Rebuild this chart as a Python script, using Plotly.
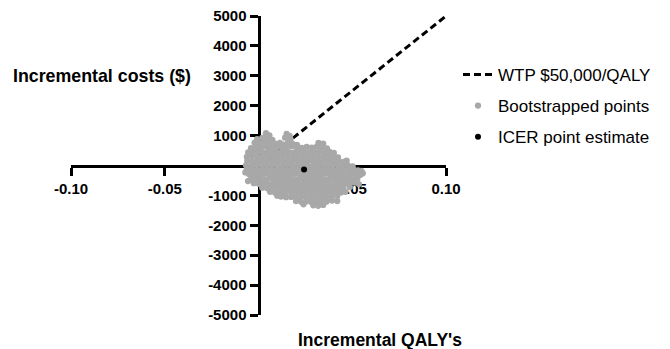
import plotly.graph_objects as go

# ---- data ----
x_tickvals = [-0.10, -0.05, 0.05, 0.10]
x_ticktext = ["-0.10", "-0.05", "0.05", "0.10"]
y_tickvals = [-5000, -4000, -3000, -2000, -1000, 1000, 2000, 3000, 4000, 5000]
y_ticktext = [str(v) for v in y_tickvals]

wtp_qaly = [0.0, 0.10]
wtp_cost = [0.0, 5000.0]

icer_qaly = [0.0243]
icer_cost = [-130]

boot_qaly = [
    0.0040, 0.0058, 0.0150, 0.0166,
    -0.0008, 0.0020, 0.0047, 0.0074, 0.0142, 0.0170,
    -0.0021, 0.0006, 0.0033, 0.0060, 0.0087, 0.0114, 0.0132, 0.0155, 0.0182, 0.0205, 0.0320, 0.0345,
    -0.0040, -0.0013, 0.0014, 0.0041, 0.0068, 0.0095, 0.0122, 0.0149, 0.0176, 0.0203, 0.0230, 0.0257, 0.0284, 0.0311, 0.0338, 0.0365,
    -0.0055, -0.0028, -0.0001, 0.0026, 0.0053, 0.0080, 0.0107, 0.0134, 0.0161, 0.0188, 0.0215, 0.0242, 0.0269, 0.0296, 0.0323, 0.0350, 0.0377, 0.0402,
    -0.0062, -0.0035, -0.0008, 0.0019, 0.0046, 0.0073, 0.0100, 0.0127, 0.0154, 0.0181, 0.0208, 0.0235, 0.0262, 0.0289, 0.0316, 0.0343, 0.0370, 0.0397, 0.0424,
    -0.0060, -0.0033, -0.0006, 0.0021, 0.0048, 0.0075, 0.0102, 0.0129, 0.0156, 0.0183, 0.0210, 0.0237, 0.0264, 0.0291, 0.0318, 0.0345, 0.0372, 0.0399, 0.0426, 0.0453, 0.0470,
    -0.0066, -0.0037, -0.0010, 0.0017, 0.0044, 0.0071, 0.0098, 0.0125, 0.0152, 0.0179, 0.0206, 0.0233, 0.0260, 0.0287, 0.0314, 0.0341, 0.0368, 0.0395, 0.0422, 0.0449, 0.0476, 0.0502,
    -0.0062, -0.0035, -0.0008, 0.0019, 0.0046, 0.0073, 0.0100, 0.0127, 0.0154, 0.0181, 0.0208, 0.0235, 0.0262, 0.0289, 0.0316, 0.0343, 0.0370, 0.0397, 0.0424, 0.0451, 0.0478, 0.0505, 0.0530, 0.0548,
    -0.0050, -0.0023, 0.0004, 0.0031, 0.0058, 0.0085, 0.0112, 0.0139, 0.0166, 0.0193, 0.0220, 0.0247, 0.0274, 0.0301, 0.0328, 0.0355, 0.0382, 0.0409, 0.0436, 0.0463, 0.0490, 0.0517, 0.0544,
    -0.0040, -0.0013, 0.0014, 0.0041, 0.0068, 0.0095, 0.0122, 0.0149, 0.0176, 0.0203, 0.0230, 0.0257, 0.0284, 0.0311, 0.0338, 0.0365, 0.0392, 0.0419, 0.0446, 0.0473, 0.0500, 0.0527,
    -0.0025, 0.0002, 0.0029, 0.0056, 0.0083, 0.0110, 0.0137, 0.0164, 0.0191, 0.0218, 0.0245, 0.0272, 0.0299, 0.0326, 0.0353, 0.0380, 0.0407, 0.0434, 0.0461, 0.0488, 0.0512,
    0.0020, 0.0047, 0.0074, 0.0101, 0.0128, 0.0155, 0.0182, 0.0209, 0.0236, 0.0263, 0.0290, 0.0317, 0.0344, 0.0371, 0.0398, 0.0425, 0.0452, 0.0487,
    0.0062, 0.0089, 0.0116, 0.0143, 0.0170, 0.0197, 0.0224, 0.0251, 0.0278, 0.0305, 0.0332, 0.0359, 0.0386, 0.0413, 0.0440, 0.0464,
    0.0120, 0.0147, 0.0174, 0.0201, 0.0228, 0.0255, 0.0282, 0.0309, 0.0336, 0.0363, 0.0390, 0.0420,
    0.0200, 0.0227, 0.0254, 0.0281, 0.0308, 0.0335, 0.0362, 0.0392,
    0.0240, 0.0292, 0.0318, 0.0345,
    -0.0056, -0.0070, 0.0556, 0.0100, 0.0420, 0.0535,
]
boot_cost = [
    1080, 1010, 1060, 990,
    880, 920, 900, 860, 930, 880,
    760, 740, 770, 750, 730, 760, 700, 740, 720, 690, 760, 730,
    580, 620, 600, 630, 590, 610, 620, 600, 640, 610, 590, 620, 600, 630, 610, 570,
    440, 470, 450, 430, 460, 450, 440, 470, 450, 430, 460, 450, 440, 470, 450, 430, 460, 420,
    290, 310, 300, 280, 320, 300, 290, 310, 300, 280, 310, 300, 290, 320, 300, 280, 310, 290, 270,
    150, 130, 160, 140, 150, 170, 140, 150, 130, 160, 150, 140, 160, 150, 130, 150, 160, 140, 150, 120, 160,
    10, -20, 0, 20, -10, 0, 10, -20, 0, 20, -10, 0, 10, -20, 0, 20, -10, 0, 10, -20, 0, -30,
    -140, -160, -150, -130, -170, -150, -140, -160, -150, -130, -160, -150, -140, -170, -150, -130, -160, -150, -140, -170, -150, -130, -160, -180,
    -290, -310, -300, -280, -320, -300, -290, -310, -300, -280, -310, -300, -290, -320, -300, -280, -310, -300, -290, -320, -300, -280, -310,
    -460, -440, -450, -470, -430, -450, -460, -440, -450, -470, -440, -450, -460, -430, -450, -470, -440, -450, -460, -430, -450, -440,
    -590, -610, -600, -620, -580, -600, -610, -590, -600, -620, -590, -600, -610, -580, -600, -620, -590, -600, -610, -580, -570,
    -740, -760, -750, -730, -770, -750, -740, -760, -750, -730, -760, -750, -740, -770, -750, -730, -760, -720,
    -880, -910, -900, -920, -890, -900, -910, -890, -900, -920, -890, -900, -910, -890, -900, -880,
    -1040, -1060, -1050, -1070, -1040, -1050, -1060, -1040, -1050, -1070, -1040, -1020,
    -1190, -1210, -1200, -1220, -1190, -1200, -1210, -1170,
    -1300, -1330, -1350, -1320,
    -520, -230, -260, -1010, -1190, -620,
]

FONT = "Liberation Sans, Arial, sans-serif"

fig = go.Figure()
fig.add_trace(go.Scatter(
    x=wtp_qaly, y=wtp_cost, mode="lines", name="WTP $50,000/QALY",
    line=dict(color="black", width=3, dash="7px,4px"), legendgroup="a"))
fig.add_trace(go.Scatter(
    x=boot_qaly, y=boot_cost, mode="markers", name="Bootstrapped points",
    marker=dict(color="#a8a8a8", size=6.3, line=dict(width=0)), legendgroup="b"))
fig.add_trace(go.Scatter(
    x=icer_qaly, y=icer_cost, mode="markers", name="ICER point estimate",
    marker=dict(color="black", size=6, line=dict(width=0)), legendgroup="c"))

axis_common = dict(
    showline=True, linecolor="black", linewidth=3, ticks="outside",
    ticklen=8, tickwidth=3, tickcolor="black", showgrid=False, zeroline=False,
    tickfont=dict(family=FONT, size=15, color="black", weight="bold"),
    layer="below traces", anchor="free", position=0.5, fixedrange=True,
    automargin=False, ticklabeloverflow="allow",
)
fig.update_xaxes(range=[-0.10, 0.10], tickvals=x_tickvals, ticktext=x_ticktext, **axis_common)
fig.update_yaxes(range=[-5000, 5000], tickvals=y_tickvals, ticktext=y_ticktext, **axis_common)

# page body has an 8px default margin: margins are offset to compensate
OFF = 8
L, T = 71 - OFF, 16 - OFF
PW, PH = 375, 299
fig.add_annotation(x=-0.0348, y=3000, xref="x", yref="y", text="<b>Incremental costs ($)</b>",
                   showarrow=False, xanchor="right", yanchor="middle",
                   font=dict(family=FONT, size=17.8, color="black"))
fig.add_annotation(x=(380 - 71) / PW, y=(315 - 340) / PH, xref="paper", yref="paper",
                   text="<b>Incremental QALY's</b>",
                   showarrow=False, xanchor="center", yanchor="middle",
                   font=dict(family=FONT, size=17.5, color="black"))

fig.update_layout(
    width=670, height=349,
    margin=dict(l=L, r=670 - L - PW, t=T, b=349 - T - PH),
    paper_bgcolor="white", plot_bgcolor="white",
    showlegend=True,
    legend=dict(x=(458 - 71) / PW, y=0.863, xanchor="left", yanchor="top",
                font=dict(family=FONT, size=17, color="black"),
                traceorder="grouped", tracegroupgap=6, itemwidth=30,
                bgcolor="rgba(0,0,0,0)"),
)

fig.write_html("out.html")
